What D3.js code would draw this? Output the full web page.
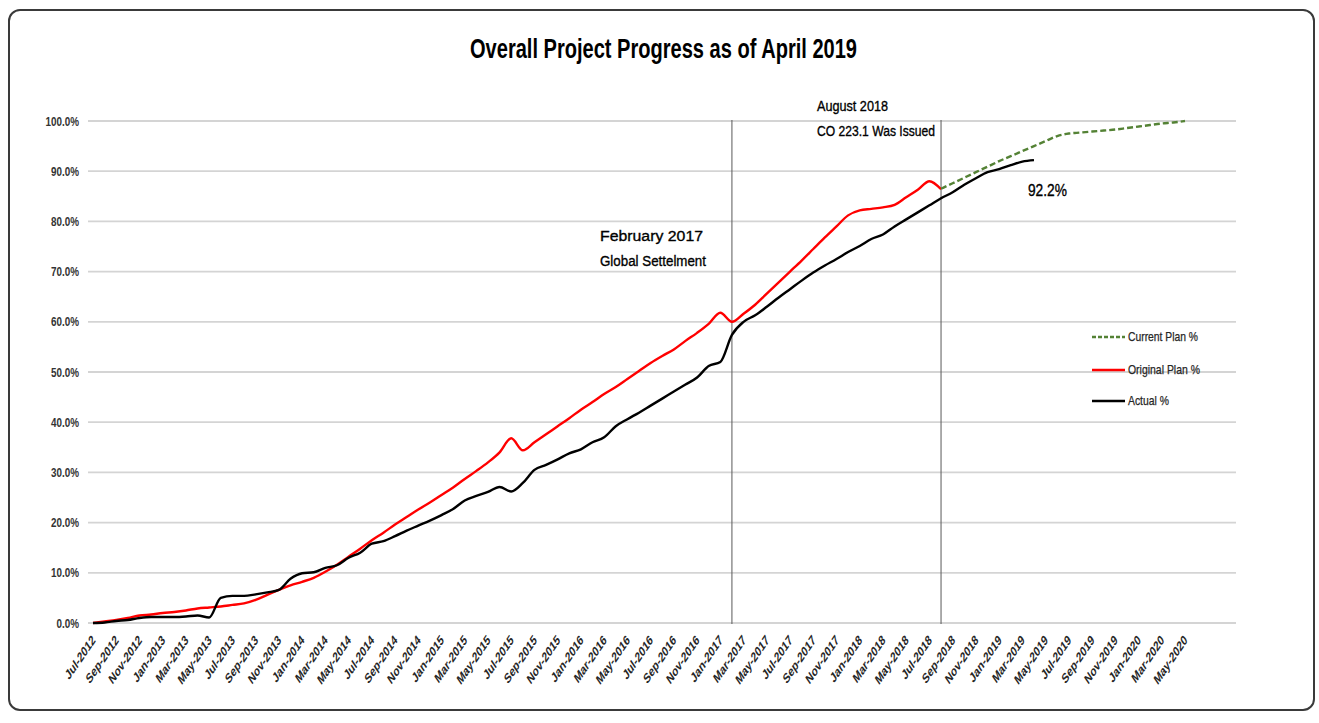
<!DOCTYPE html>
<html>
<head>
<meta charset="utf-8">
<script src="https://cdn.jsdelivr.net/npm/d3@7"></script>
<style>
  body { margin: 0; background: #fff; }
  svg text { font-family: "Liberation Sans", Arial, sans-serif; }
</style>
</head>
<body>
<svg id="chart" width="1319" height="723"></svg>
<script>
// tick labels on the category axis (every second month)
let tickLabels = ["Jul-2012","Sep-2012","Nov-2012","Jan-2013","Mar-2013","May-2013","Jul-2013","Sep-2013",
  "Nov-2013","Jan-2014","Mar-2014","May-2014","Jul-2014","Sep-2014","Nov-2014","Jan-2015","Mar-2015",
  "May-2015","Jul-2015","Sep-2015","Nov-2015","Jan-2016","Mar-2016","May-2016","Jul-2016","Sep-2016",
  "Nov-2016","Jan-2017","Mar-2017","May-2017","Jul-2017","Sep-2017","Nov-2017","Jan-2018","Mar-2018",
  "May-2018","Jul-2018","Sep-2018","Nov-2018","Jan-2019","Mar-2019","May-2019","Jul-2019","Sep-2019",
  "Nov-2019","Jan-2020","Mar-2020","May-2020"];

let yTicks = [0, 10, 20, 30, 40, 50, 60, 70, 80, 90, 100];

// monthly values, starting Jul-2012
let actualPct = [0.0, 0.1, 0.4, 0.6, 1.0, 1.2, 1.2, 1.2, 1.3, 1.5, 1.1, 5.0,
  5.4, 5.4, 5.7, 6.1, 6.6, 8.8, 9.9, 10.1, 11.0, 11.5, 13.0, 14.0,
  15.8, 16.3, 17.3, 18.4, 19.4, 20.4, 21.5, 22.7, 24.4, 25.3, 26.1, 27.1,
  26.2, 27.9, 30.5, 31.5, 32.6, 33.8, 34.6, 36.0, 37.0, 39.2, 40.6, 41.9,
  43.3, 44.7, 46.1, 47.5, 48.9, 51.2, 52.0, 57.4, 60.0, 61.3, 63.0, 64.8,
  66.5, 68.2, 69.8, 71.2, 72.5, 73.9, 75.1, 76.5, 77.4, 79.0, 80.4, 81.8,
  83.2, 84.6, 85.8, 87.3, 88.6, 89.8, 90.4, 91.2, 91.9, 92.2];

let originalPlanPct = [0.0, 0.3, 0.6, 1.0, 1.5, 1.7, 2.0, 2.2, 2.5, 2.9, 3.1, 3.3,
  3.6, 3.9, 4.6, 5.6, 6.6, 7.5, 8.2, 9.0, 10.2, 11.6, 13.2, 14.8,
  16.5, 18.0, 19.6, 21.1, 22.6, 24.0, 25.5, 27.0, 28.7, 30.3, 32.0, 34.0,
  36.8, 34.4, 36.0, 37.6, 39.2, 40.8, 42.5, 44.0, 45.6, 47.0, 48.6, 50.2,
  51.8, 53.2, 54.5, 56.2, 57.8, 59.6, 61.8, 60.0, 61.6, 63.4, 65.6, 67.8,
  70.0, 72.2, 74.5, 76.8, 79.0, 81.2, 82.2, 82.5, 82.8, 83.3, 84.8, 86.3,
  88.0, 86.4];

// monthly values, starting Aug-2018
let currentPlanStart = "Aug-2018";
let currentPlanPct = [86.5, 87.6, 88.7, 89.8, 90.9, 92.0, 93.0, 94.0, 95.0, 96.0, 97.0,
  97.5, 97.7, 97.9, 98.1, 98.3, 98.6, 98.9, 99.2, 99.5, 99.7, 100.0];

let seriesNames = ["Current Plan %", "Original Plan %", "Actual %"];
let seriesColors = ["#548235", "#ff0000", "#000000"];

let markers = [
  {month: "Feb-2017", lines: ["February 2017", "Global Settelment"]},
  {month: "Aug-2018", lines: ["August 2018", "CO 223.1 Was Issued"]}
];

let fmtMonth = d3.timeFormat("%b-%Y");
let months = d3.timeMonth.range(new Date(2012, 6, 1), new Date(2020, 5, 1)).map(fmtMonth);

let x = d3.scalePoint().domain(months).range([93, 1185]);
let y = d3.scaleLinear().domain([0, 100]).range([623, 121]);

let svg = d3.select('#chart');

// outer frame
svg.append('rect')
  .attr('x', 9).attr('y', 10)
  .attr('width', 1305).attr('height', 700)
  .attr('rx', 11)
  .attr('fill', '#fff')
  .attr('stroke', '#3a3a3a')
  .attr('stroke-width', 2);

// title
svg.append('text')
  .attr('x', 470).attr('y', 58)
  .attr('textLength', 387)
  .attr('lengthAdjust', 'spacingAndGlyphs')
  .style('font-size', '27px')
  .style('font-weight', 'bold')
  .style('fill', '#000')
  .text('Overall Project Progress as of April 2019');

// gridlines
svg.append('g')
  .selectAll('line.grid')
  .data(yTicks)
  .enter()
  .append('line')
  .attr('class', 'grid')
  .attr('x1', 88).attr('x2', 1236)
  .attr('y1', d => y(d)).attr('y2', d => y(d))
  .style('stroke', '#d4d4d4')
  .style('stroke-width', '1.8px');

// y axis labels
svg.append('g')
  .selectAll('text.ylab')
  .data(yTicks)
  .enter()
  .append('text')
  .attr('class', 'ylab')
  .attr('transform', d => `translate(79, ${y(d) + 4.5}) scale(0.76, 1)`)
  .style('text-anchor', 'end')
  .style('font-size', '13px')
  .style('font-weight', 'bold')
  .style('fill', '#333')
  .text(d => d.toFixed(1) + '%');

// x axis labels
svg.append('g')
  .selectAll('text.xlab')
  .data(tickLabels)
  .enter()
  .append('text')
  .attr('class', 'xlab')
  .attr('transform', d => `translate(${x(d) + 3}, 641) scale(0.68, 1) rotate(-45)`)
  .style('text-anchor', 'end')
  .style('font-size', '14px')
  .style('font-weight', 'bold')
  .style('fill', '#262626')
  .text(d => d);

// event markers
let mk = svg.append('g').attr('class', 'markers');
mk.selectAll('line')
  .data(markers)
  .enter()
  .append('line')
  .attr('x1', d => x(d.month)).attr('x2', d => x(d.month))
  .attr('y1', y(100) - 1).attr('y2', y(0) + 1)
  .style('stroke', '#595959')
  .style('stroke-width', '1px');

let annot = [
  {text: markers[0].lines[0], x: 600, y: 241, w: 103},
  {text: markers[0].lines[1], x: 600, y: 266, w: 106},
  {text: markers[1].lines[0], x: 817, y: 111, w: 71},
  {text: markers[1].lines[1], x: 817, y: 136, w: 118}
];
mk.selectAll('text')
  .data(annot)
  .enter()
  .append('text')
  .attr('x', d => d.x).attr('y', d => d.y)
  .attr('textLength', d => d.w)
  .attr('lengthAdjust', 'spacingAndGlyphs')
  .style('font-size', '15.5px')
  .style('stroke', '#000')
  .style('stroke-width', '0.35px')
  .style('fill', '#000')
  .text(d => d.text);

// lines
let line = d3.line()
  .x(d => x(d.m))
  .y(d => y(d.v))
  .curve(d3.curveMonotoneX);

let startIdx = months.indexOf(currentPlanStart);
let seriesData = [
  currentPlanPct.map((v, i) => ({m: months[startIdx + i], v: v})),
  originalPlanPct.map((v, i) => ({m: months[i], v: v})),
  actualPct.map((v, i) => ({m: months[i], v: v}))
];

svg.append('g')
  .selectAll('path.series')
  .data([1, 0, 2])
  .enter()
  .append('path')
  .attr('class', 'series')
  .attr('d', i => line(seriesData[i]))
  .style('fill', 'none')
  .style('stroke', i => seriesColors[i])
  .style('stroke-width', '2.4px')
  .style('stroke-dasharray', i => i === 0 ? '6,3' : null)
  .style('stroke-linejoin', 'round');

// last actual value label
let last = seriesData[2][seriesData[2].length - 1];
svg.append('text')
  .attr('x', x(last.m) - 6).attr('y', 196)
  .attr('textLength', 39)
  .attr('lengthAdjust', 'spacingAndGlyphs')
  .style('font-size', '17px')
  .style('stroke', '#000')
  .style('stroke-width', '0.35px')
  .style('fill', '#000')
  .text(last.v.toFixed(1) + '%');

// legend
let legend = svg.append('g').attr('class', 'legend');
let legendY = [337, 370, 401];
let legendW = [70, 72, 41];
seriesNames.forEach((name, i) => {
  legend.append('line')
    .attr('x1', 1092).attr('x2', 1125)
    .attr('y1', legendY[i]).attr('y2', legendY[i])
    .style('stroke', seriesColors[i])
    .style('stroke-width', '2.4px')
    .style('stroke-dasharray', i === 0 ? '4,2' : null);
  legend.append('text')
    .attr('x', 1128).attr('y', legendY[i] + 4)
    .attr('textLength', legendW[i])
    .attr('lengthAdjust', 'spacingAndGlyphs')
    .style('font-size', '13px')
    .style('stroke', '#262626')
    .style('stroke-width', '0.25px')
    .style('fill', '#262626')
    .text(name);
});
</script>
</body>
</html>
